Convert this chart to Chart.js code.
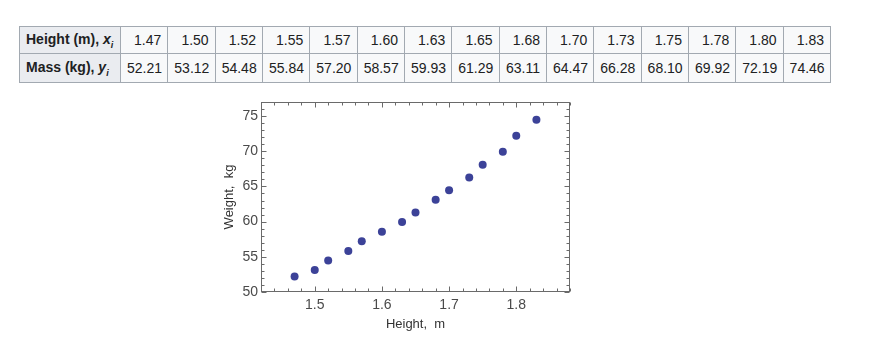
<!DOCTYPE html>
<html>
<head>
<meta charset="utf-8">
<script src="https://cdn.jsdelivr.net/npm/chart.js@4.4.1/dist/chart.umd.min.js"></script>
<style>
  html, body { margin:0; padding:0; background:#ffffff; width:886px; height:338px; overflow:hidden; }
  #tbl { position:absolute; left:19px; top:26px; border-collapse:collapse; font-family:"Liberation Sans", Arial, sans-serif; font-size:14px; color:#202122; table-layout:fixed; width:812px; }
  #tbl td, #tbl th { border:1px solid #a2a9b1; padding:0 6px 0 6px; white-space:nowrap; }
  #tbl th { background:#eaecf0; font-weight:bold; text-align:left; width:88px; }
  #tbl td { background:#f8f9fa; text-align:right; }
  #tbl tr.r1 { height:27px; }
  #tbl tr.r2 { height:29px; }
  #wrap { position:absolute; left:200px; top:90px; width:400px; height:248px; }
</style>
</head>
<body>
<table id="tbl"><tbody></tbody></table>
<div id="wrap"><canvas id="c" width="400" height="248"></canvas></div>
<script>
const heights = [1.47, 1.50, 1.52, 1.55, 1.57, 1.60, 1.63, 1.65, 1.68, 1.70, 1.73, 1.75, 1.78, 1.80, 1.83];
const masses = [52.21, 53.12, 54.48, 55.84, 57.20, 58.57, 59.93, 61.29, 63.11, 64.47, 66.28, 68.10, 69.92, 72.19, 74.46];
const xTicks = [1.5, 1.6, 1.7, 1.8];
const yTicks = [50, 55, 60, 65, 70, 75];
const xLabel = "Height,  m";
const yLabel = "Weight,  kg";

// Build table
const tb = document.querySelector('#tbl tbody');
function row(cls, headHtml, vals) {
  const tr = document.createElement('tr');
  tr.className = cls;
  const th = document.createElement('th');
  th.innerHTML = headHtml;
  tr.appendChild(th);
  vals.forEach(v => { const td = document.createElement('td'); td.textContent = v.toFixed(2); tr.appendChild(td); });
  tb.appendChild(tr);
}
row('r1', 'Height (m), <i>x<sub style="font-size:9px">i</sub></i>', heights);
row('r2', 'Mass (kg), <i>y<sub style="font-size:9px">i</sub></i>', masses);

const frameColor = '#6a6a6a';
const framePlugin = {
  id: 'frame',
  afterDraw(chart) {
    const {ctx, chartArea: a, scales: {x, y}} = chart;
    ctx.save();
    ctx.strokeStyle = frameColor;
    ctx.lineWidth = 1;
    const L = Math.round(a.left) + 0.5, R = Math.round(a.right) - 0.5, T = Math.round(a.top) + 0.5, B = Math.round(a.bottom) - 0.5;
    ctx.strokeRect(L, T, R - L, B - T);
    ctx.beginPath();
    // x ticks
    for (let i = 0; i <= 23; i++) {
      const v = +(x.min + i * 0.02).toFixed(2);
      if (v > x.max + 1e-9) break;
      const major = xTicks.some(t => Math.abs(t - v) < 1e-6);
      const len = major ? 5 : 3;
      const px = Math.round(x.getPixelForValue(v)) + 0.5;
      ctx.moveTo(px, B); ctx.lineTo(px, B - len);
      ctx.moveTo(px, T); ctx.lineTo(px, T + len);
    }
    for (let v = y.min; v <= y.max; v++) {
      const major = yTicks.includes(v);
      const len = major ? 5 : 3;
      const py = Math.round(y.getPixelForValue(v)) + 0.5;
      ctx.moveTo(L, py); ctx.lineTo(L + len, py);
      ctx.moveTo(R, py); ctx.lineTo(R - len, py);
    }
    ctx.stroke();
    ctx.restore();
  }
};

const tickFont = { family: '"Liberation Sans", Arial, sans-serif', size: 14 };
const titleFont = { family: '"Liberation Sans", Arial, sans-serif', size: 13 };

new Chart(document.getElementById('c'), {
  type: 'scatter',
  data: {
    datasets: [{
      data: heights.map((h, i) => ({ x: h, y: masses[i] })),
      backgroundColor: 'rgb(60,66,152)',
      borderWidth: 0,
      pointRadius: 4,
      pointHoverRadius: 4
    }]
  },
  options: {
    responsive: false,
    animation: false,
    devicePixelRatio: 1,
    layout: { padding: { top: 12, right: 30, left: 0, bottom: 0 } },
    plugins: { legend: { display: false }, tooltip: { enabled: false } },
    scales: {
      x: {
        type: 'linear', min: 1.42, max: 1.88,
        grid: { display: false, drawTicks: false },
        border: { display: false },
        ticks: { font: tickFont, color: '#4a4a4a', padding: 5, maxRotation: 0, callback: v => v.toFixed(1) },
        afterBuildTicks: s => { s.ticks = xTicks.map(v => ({ value: v })); },
        afterFit: s => { s.height = 46; },
        title: { display: true, text: xLabel, font: titleFont, color: '#333', padding: { top: 0, bottom: 6 } }
      },
      y: {
        type: 'linear', min: 50, max: 77,
        grid: { display: false, drawTicks: false },
        border: { display: false },
        ticks: { font: tickFont, color: '#4a4a4a', padding: 3, callback: v => String(v) },
        afterBuildTicks: s => { s.ticks = yTicks.map(v => ({ value: v })); },
        afterFit: s => { s.width = 61; },
        title: { display: true, text: yLabel, font: titleFont, color: '#333', padding: { top: 22, bottom: 0 } }
      }
    }
  },
  plugins: [framePlugin]
});
</script>
</body>
</html>
